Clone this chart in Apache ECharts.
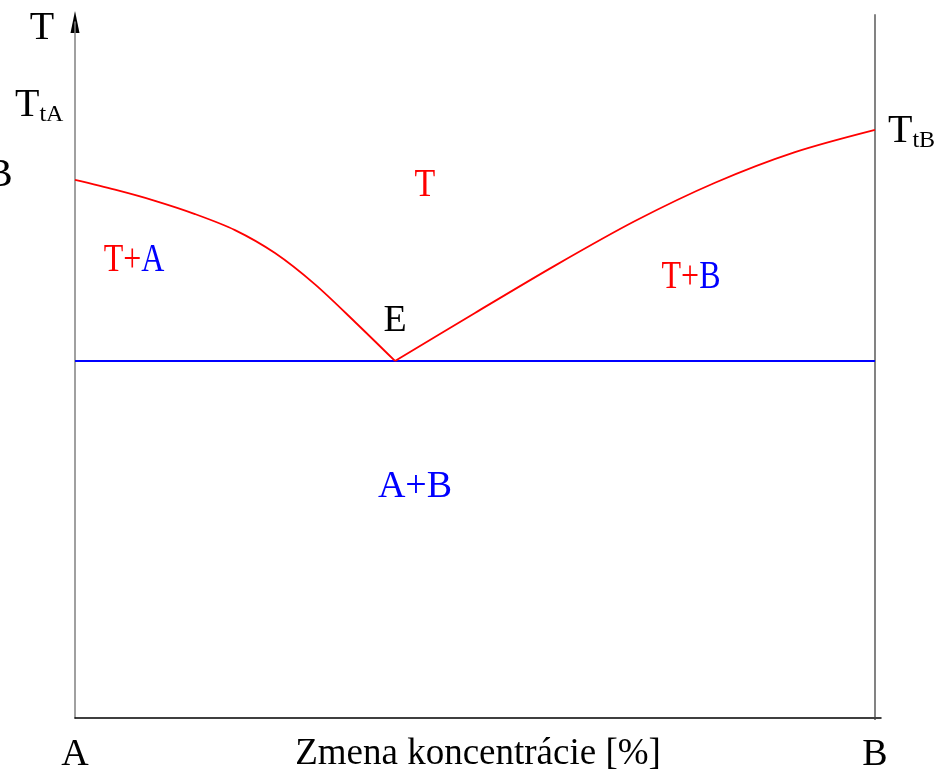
<!DOCTYPE html>
<html>
<head>
<meta charset="utf-8">
<script src="https://cdn.jsdelivr.net/npm/echarts@6/dist/echarts.min.js"></script>
<style>
  html, body { margin: 0; padding: 0; background: #fff; }
  #chart { width: 936px; height: 776px; }
</style>
</head>
<body>
<div id="chart"></div>
<script>
// Eutectic phase diagram of a binary system A–B
// x: concentration of B [%], y: temperature (relative units)

// Liquidus from the melting point of A down to the eutectic point E
const liquidusA = [
  [0, 77.3], [5, 75.9], [10, 74.3], [15, 72.4], [20, 70.1],
  [25, 66.8], [30, 62.3], [35, 56.9], [40, 51.3]
];
// Liquidus from the eutectic point E up to the melting point of B
const liquidusB = [
  [40, 51.3], [50, 58.2], [60, 65.0], [70, 71.4],
  [80, 76.9], [90, 81.3], [100, 84.5]
];
// Eutectic (solidus) temperature
const eutecticT = 51.3;
const eutecticLine = [[0, eutecticT], [100, eutecticT]];
// Right-hand boundary (pure B)
const boundaryB = [[100, -0.3], [100, 101.1]];
// Composition end labels
const endLabels = { 0: 'A', 100: 'B' };
const axisTitle = 'Zmena koncentrácie [%]';

const FONT = '"Liberation Serif", "Times New Roman", serif';
const RED = '#ff0000', BLUE = '#0000ff';

const chart = echarts.init(document.getElementById('chart'), null, { renderer: 'canvas' });

function txt(x, y, text, size, color, extra) {
  return Object.assign({
    type: 'text', x: x, y: y, silent: true,
    style: Object.assign({
      text: text, fill: color || '#000',
      font: size + 'px ' + FONT,
      align: 'center', verticalAlign: 'middle'
    }, (extra && extra.style) || {})
  }, extra && extra.el || {});
}

function richStyle(size) {
  return {
    r: { fill: RED, font: size + 'px ' + FONT },
    b: { fill: BLUE, font: size + 'px ' + FONT },
    k: { fill: '#000', font: size + 'px ' + FONT },
    s: { fill: '#000', font: Math.round(size * 0.6) + 'px ' + FONT, padding: [20, 0, 0, 0] }
  };
}

chart.setOption({
  animation: false,
  backgroundColor: '#fff',
  grid: {
    left: 75, right: 936 - 881, top: 22, bottom: 776 - 718,
    containLabel: false, outerBoundsMode: 'none'
  },
  xAxis: {
    type: 'value', min: 0, max: 100.75, interval: 100,
    axisLine: { show: true, lineStyle: { color: '#000', width: 1.5 } },
    axisTick: { show: false },
    splitLine: { show: false },
    axisLabel: {
      margin: 18, color: '#000', fontSize: 38, fontFamily: FONT,
      formatter: v => endLabels[v] || ''
    },
    name: axisTitle, nameLocation: 'middle', nameGap: 18, nameMoveOverlap: false,
    nameTextStyle: { color: '#000', fontSize: 37, fontFamily: FONT }
  },
  yAxis: {
    type: 'value', min: 0, max: 100,
    axisLine: {
      show: true, onZero: false,
      lineStyle: { color: '#808080', width: 1.5 }
    },
    axisTick: { show: false },
    axisLabel: { show: false },
    splitLine: { show: false }
  },
  series: [
    {
      type: 'line', data: boundaryB, symbol: 'none', clip: false,
      lineStyle: { color: '#404040', width: 1.3 }, silent: true
    },
    {
      type: 'line', data: eutecticLine, symbol: 'none',
      lineStyle: { color: BLUE, width: 2 }, silent: true
    },
    {
      type: 'line', data: liquidusA, symbol: 'none', smooth: 0.3,
      lineStyle: { color: RED, width: 1.8 }, silent: true
    },
    {
      type: 'line', data: liquidusB, symbol: 'none', smooth: 0.3,
      lineStyle: { color: RED, width: 1.8 }, silent: true
    }
  ],
  graphic: [
    // arrowhead at the top of the temperature axis
    {
      type: 'polygon', silent: true,
      shape: { points: [[75, 11], [70.5, 33], [79.5, 33]] },
      style: { fill: '#000' }
    },
    txt(42, 28, 'T', 40),
    {
      type: 'text', x: 15, y: 105, silent: true,
      style: { text: '{k|T}{s|tA}', rich: richStyle(40), verticalAlign: 'middle' }
    },
    txt(-14, 175, 'B', 40, '#000', { style: { align: 'left' } }),
    {
      type: 'text', x: 888, y: 131, silent: true,
      style: { text: '{k|T}{s|tB}', rich: richStyle(40), verticalAlign: 'middle' }
    },
    txt(425, 185, 'T', 40, RED, { el: { scaleX: 0.85 } }),
    {
      type: 'text', x: 134, y: 260, silent: true, scaleX: 0.8,
      style: { text: '{r|T+}{b|A}', rich: richStyle(40), align: 'center', verticalAlign: 'middle' }
    },
    {
      type: 'text', x: 691, y: 277, silent: true, scaleX: 0.8,
      style: { text: '{r|T+}{b|B}', rich: richStyle(40), align: 'center', verticalAlign: 'middle' }
    },
    txt(395, 321, 'E', 38),
    txt(415, 487, 'A+B', 38, BLUE)
  ]
});
</script>
</body>
</html>
